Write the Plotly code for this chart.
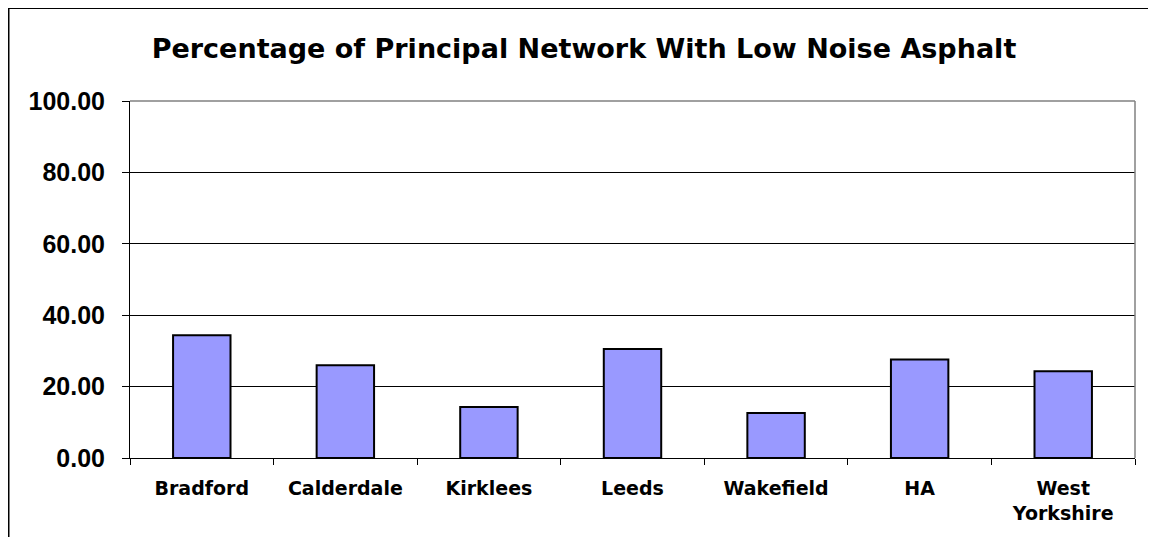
import plotly.graph_objects as go

categories = ["Bradford", "Calderdale", "Kirklees", "Leeds", "Wakefield", "HA", "West<br>Yorkshire"]
pct_low_noise = [34.4, 26.0, 14.3, 30.5, 12.6, 27.6, 24.3]
y_ticks = [0, 20, 40, 60, 80, 100]

ARIAL = "Liberation Sans, Arial, sans-serif"
WIDE = "DejaVu Sans, Verdana, sans-serif"

# page body adds 8px offset; figure sized to fit the window
W, H = 1148, 529
L, R, T, B = 122, 21, 93, 79

fig = go.Figure(
    data=go.Bar(
        x=categories,
        y=pct_low_noise,
        width=0.4,
        marker_color="#9999FF",
        marker_line=dict(color="#000000", width=2),
    )
)

pw = W - L - R
ph = H - T - B


def px_x(p):
    return (p - L) / pw


def px_y(p):
    return (H - B - p) / ph


fig.update_layout(
    width=W,
    height=H,
    margin=dict(l=L, r=R, t=T, b=B),
    paper_bgcolor="white",
    plot_bgcolor="white",
    showlegend=False,
    font=dict(family=ARIAL, color="#000000"),
    title=dict(
        text="Percentage of Principal Network With Low Noise Asphalt",
        x=px_x(584 - 8), xref="paper", xanchor="center",
        y=1 - 41 / H, yanchor="middle",
        font=dict(size=27, family=WIDE, weight="bold"),
    ),
    xaxis=dict(
        tickfont=dict(size=19, family=WIDE, weight="bold"),
        ticks="outside", ticklen=6, tickcolor="#000000",
        tickson="boundaries",
        showline=True, linecolor="#000000", linewidth=1,
        showgrid=False,
        ticklabelstandoff=13,
    ),
    yaxis=dict(
        range=[0, 100],
        tickvals=y_ticks,
        tickformat=".2f",
        tickfont=dict(size=25, family=ARIAL, weight="bold"),
        ticks="outside", ticklen=7, tickcolor="#000000",
        showline=True, linecolor="#000000", linewidth=1,
        showgrid=True, gridcolor="#000000", gridwidth=1,
        zeroline=False,
        ticklabelstandoff=12,
    ),
    bargap=0.6,
)

# plot-area frame (grey top/right)
fig.add_shape(type="line", xref="paper", yref="paper", x0=0, x1=1, y0=1, y1=1,
              line=dict(color="#808080", width=1.5))
fig.add_shape(type="line", xref="paper", yref="paper", x0=1, x1=1, y0=0, y1=1,
              line=dict(color="#808080", width=1.5))

# outer chart border
fig.add_shape(type="line", xref="paper", yref="paper",
              x0=px_x(0), x1=px_x(W), y0=px_y(0), y1=px_y(0),
              line=dict(color="#000000", width=2))
fig.add_shape(type="line", xref="paper", yref="paper",
              x0=px_x(0.5), x1=px_x(0.5), y0=px_y(0), y1=px_y(H),
              line=dict(color="#000000", width=2))
fig.add_shape(type="line", xref="paper", yref="paper",
              x0=px_x(1147), x1=px_x(1147), y0=px_y(0), y1=px_y(H),
              line=dict(color="#D9D9D9", width=1))

fig.write_html("out.html")
